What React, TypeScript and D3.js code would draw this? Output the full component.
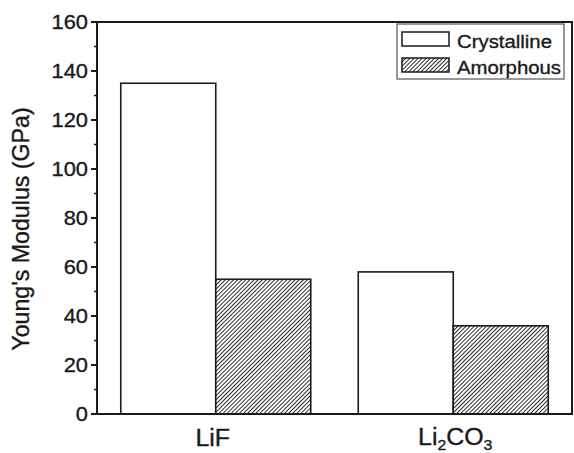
import React, { useEffect } from "react";
import * as d3 from "d3";

const categories = ["LiF", "Li2CO3"];
const seriesNames = ["Crystalline", "Amorphous"];
const crystalline = [135, 58];
const amorphous = [55, 36];
const yTicks = [0, 20, 40, 60, 80, 100, 120, 140, 160];

const W = 574;
const H = 453;
const M = { left: 97, right: 2, top: 22, bottom: 39 };

export default function App() {
  useEffect(() => {
    document.body.style.margin = "0";
  }, []);

  const x = d3.scaleBand().domain(categories).range([M.left, W - M.right]).paddingInner(0.2).paddingOuter(0.1);
  const sub = d3.scaleBand().domain(seriesNames).range([0, x.bandwidth()]);
  const y = d3.scaleLinear().domain([0, 160]).range([H - M.bottom, M.top]);
  const minor = d3.range(10, 160, 20);
  const font = "'Liberation Sans', Arial, sans-serif";
  const ink = "#1a1a1a";
  const values = [crystalline, amorphous];
  const textStroke = { stroke: ink, strokeWidth: 0.35 };

  return (
    <svg width={W} height={H} style={{ position: "absolute", left: 0, top: 0, background: "#fff" }} fontFamily={font}>
      <defs>
        <pattern id="hatch" patternUnits="userSpaceOnUse" width="2.9" height="2.9" patternTransform="rotate(45)">
          <rect width="2.9" height="2.9" fill="#fff" />
          <line x1="0" y1="0" x2="0" y2="2.9" stroke="#111" strokeWidth="1.75" />
        </pattern>
      </defs>
      {categories.map((c, i) =>
        seriesNames.map((s, j) => {
          const v = values[j][i];
          const bx = (x(c) as number) + (sub(s) as number);
          return (
            <rect
              key={c + s}
              x={bx}
              y={y(v)}
              width={sub.bandwidth()}
              height={y(0) - y(v)}
              fill={j === 0 ? "#fff" : "url(#hatch)"}
              stroke={ink}
              strokeWidth={1.6}
            />
          );
        })
      )}
      {/* frame */}
      <rect x={M.left} y={M.top} width={W - M.right - M.left} height={y(0) - M.top} fill="none" stroke={ink} strokeWidth={2} />
      {/* y ticks */}
      {yTicks.map((t) => (
        <g key={t}>
          <line x1={M.left - 6} x2={M.left} y1={y(t)} y2={y(t)} stroke={ink} strokeWidth={2} />
          <text transform={`translate(${M.left - 9},${y(t)}) scale(1.12,1)`} dy="0.36em" textAnchor="end" fontSize={19.5} fill={ink} {...textStroke}>
            {t}
          </text>
        </g>
      ))}
      {minor.map((t) => (
        <line key={"m" + t} x1={M.left - 3} x2={M.left} y1={y(t)} y2={y(t)} stroke={ink} strokeWidth={1.5} />
      ))}
      {/* y label */}
      <text transform={`translate(29,${(M.top + y(0)) / 2 + 11}) rotate(-90)`} textAnchor="middle" fontSize={23.2} fill={ink} {...textStroke}>
        Young's Modulus (GPa)
      </text>
      {/* x labels */}
      {categories.map((c) => {
        const cx = (x(c) as number) + x.bandwidth() / 2;
        return c === "Li2CO3" ? (
          <text key={c} transform={`translate(${cx + 2},445) scale(1.06,1)`} textAnchor="middle" fontSize={23.5} fill={ink} {...textStroke}>
            Li<tspan fontSize={15} dy={5}>2</tspan>
            <tspan dy={-5}>CO</tspan>
            <tspan fontSize={15} dy={5}>3</tspan>
          </text>
        ) : (
          <text key={c} transform={`translate(${cx - 3},446) scale(1.06,1)`} textAnchor="middle" fontSize={23.5} fill={ink} {...textStroke}>
            {c}
          </text>
        );
      })}
      {/* legend */}
      <rect x={397} y={24} width={167} height={55} fill="#fff" stroke="#555" strokeWidth={1.2} />
      {seriesNames.map((s, j) => (
        <g key={s}>
          <rect x={402} y={32 + j * 26} width={47} height={14} fill={j === 0 ? "#fff" : "url(#hatch)"} stroke={ink} strokeWidth={1.5} />
          <text transform={`translate(457,${48 + j * 25.5}) scale(1.1,1)`} fontSize={18.5} fill={ink} {...textStroke}>
            {s}
          </text>
        </g>
      ))}
    </svg>
  );
}
